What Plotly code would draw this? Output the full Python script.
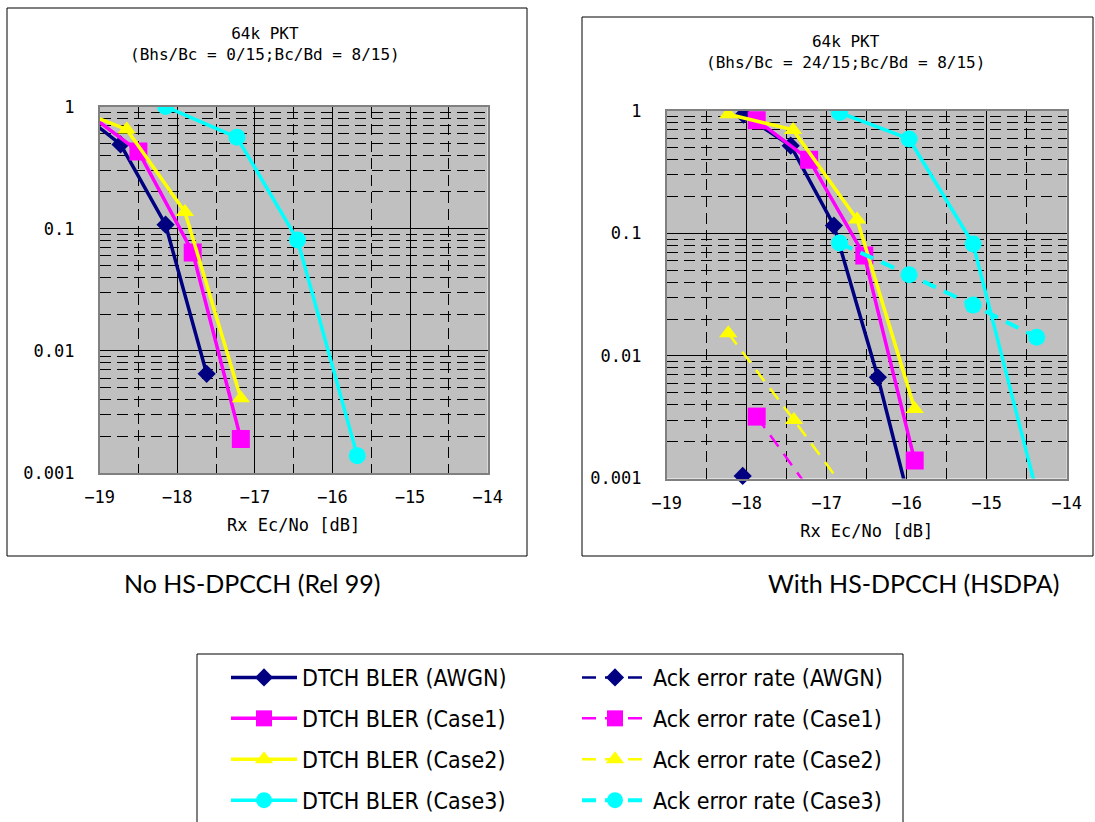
import plotly.graph_objects as go

# ---------------- data ----------------
series_names = ["AWGN", "Case1", "Case2", "Case3"]

# Left chart: No HS-DPCCH (Rel 99) - DTCH BLER
l_awgn_x = [-19.12, -18.73, -18.15, -17.62]
l_awgn_y = [0.77, 0.49, 0.108, 0.0065]
l_c1_x = [-19.12, -18.50, -17.80, -17.18]
l_c1_y = [0.85, 0.43, 0.064, 0.0019]
l_c2_x = [-19.12, -18.65, -17.90, -17.18]
l_c2_y = [0.85, 0.65, 0.137, 0.0041]
l_c3_x = [-18.15, -17.23, -16.45, -15.68]
l_c3_y = [1.0, 0.56, 0.081, 0.00139]

# Right chart: With HS-DPCCH (HSDPA) - DTCH BLER
r_awgn_x = [-18.04, -17.45, -16.91, -16.36, -15.90]
r_awgn_y = [0.93, 0.52, 0.116, 0.0067, 0.00044]
r_c1_x = [-17.875, -17.22, -16.53, -15.90]
r_c1_y = [0.84, 0.40, 0.066, 0.0014]
r_c2_x = [-18.23, -17.42, -16.62, -15.90]
r_c2_y = [0.94, 0.70, 0.13, 0.0037]
r_c3_x = [-16.84, -15.97, -15.17, -14.30]
r_c3_y = [0.97, 0.59, 0.082, 0.0005]

# Right chart: Ack error rate
a_awgn_x = [-18.05, -17.50]
a_awgn_y = [0.00105, 0.0003]
a_c1_x = [-17.875, -17.00]
a_c1_y = [0.0032, 0.00052]
a_c2_x = [-18.23, -17.41, -16.50]
a_c2_y = [0.0153, 0.0030, 0.00047]
a_c3_x = [-16.84, -15.97, -15.17, -14.375]
a_c3_y = [0.0835, 0.046, 0.026, 0.0142]

dtch_labels = ["DTCH BLER (AWGN)", "DTCH BLER (Case1)", "DTCH BLER (Case2)", "DTCH BLER (Case3)"]
ack_labels = ["Ack error rate (AWGN)", "Ack error rate (Case1)", "Ack error rate (Case2)", "Ack error rate (Case3)"]

x_ticks = [-19, -18, -17, -16, -15, -14]
y_ticks = [1, 0.1, 0.01, 0.001]
y_ticktext = ["1", "0.1", "0.01", "0.001"]

left_title = "64k PKT<br>(Bhs/Bc = 0/15;Bc/Bd = 8/15)"
right_title = "64k PKT<br>(Bhs/Bc = 24/15;Bc/Bd = 8/15)"
x_title = "Rx Ec/No [dB]"
left_caption = "No HS-DPCCH (Rel 99)"
right_caption = "With HS-DPCCH (HSDPA)"

# ---------------- styles ----------------
colors = ["#000080", "#FF00FF", "#FFFF00", "#00FFFF"]
symbols = ["diamond", "square", "triangle-up", "circle"]
msizes = [14, 18, 16, 17]

W, H = 1095, 822
MONO = "DejaVu Sans Mono"

fig = go.Figure()

left_sets = [(l_awgn_x, l_awgn_y), (l_c1_x, l_c1_y), (l_c2_x, l_c2_y), (l_c3_x, l_c3_y)]
right_sets = [(r_awgn_x, r_awgn_y), (r_c1_x, r_c1_y), (r_c2_x, r_c2_y), (r_c3_x, r_c3_y)]
ack_sets = [(a_awgn_x, a_awgn_y), (a_c1_x, a_c1_y), (a_c2_x, a_c2_y), (a_c3_x, a_c3_y)]

for i, (xs, ys) in enumerate(left_sets):
    fig.add_trace(go.Scatter(
        x=xs, y=ys, mode="lines+markers", xaxis="x", yaxis="y",
        line=dict(color=colors[i], width=3.5),
        marker=dict(symbol=symbols[i], size=msizes[i], color=colors[i]),
        showlegend=False, name=dtch_labels[i]))

for i, (xs, ys) in enumerate(right_sets):
    fig.add_trace(go.Scatter(
        x=xs, y=ys, mode="lines+markers", xaxis="x2", yaxis="y2",
        line=dict(color=colors[i], width=3.5),
        marker=dict(symbol=symbols[i], size=msizes[i], color=colors[i]),
        name=dtch_labels[i], legend="legend", legendgroup="d%d" % i))

ack_widths = [2.5, 2.5, 2.5, 4]
for i, (xs, ys) in enumerate(ack_sets):
    fig.add_trace(go.Scatter(
        x=xs, y=ys, mode="lines+markers", xaxis="x2", yaxis="y2",
        line=dict(color=colors[i], width=ack_widths[i], dash="14px,9px"),
        marker=dict(symbol=symbols[i], size=msizes[i], color=colors[i]),
        cliponaxis=False,
        name=ack_labels[i], legend="legend2", legendgroup="a%d" % i))

minor_y = [m * 10 ** e for e in (-3, -2, -1) for m in range(2, 10)]

def xaxis_cfg(domain, anchor):
    return dict(
        domain=domain, anchor=anchor, range=[-19, -14], automargin=False,
        tickvals=x_ticks, ticks="", ticklabelstandoff=8,
        tickfont=dict(family=MONO, size=17, color="black"),
        showgrid=True, gridcolor="black", gridwidth=1,
        minor=dict(dtick=0.5, showgrid=True, gridcolor="black", gridwidth=1, griddash="11px,6px"),
        showline=True, linecolor="#808080", linewidth=1.5, mirror=True,
        zeroline=False,
        title=dict(text=x_title, font=dict(family=MONO, size=17, color="black"), standoff=13))

def yaxis_cfg(domain, anchor):
    return dict(
        domain=domain, anchor=anchor, type="log", range=[-3, 0], automargin=False,
        tickvals=y_ticks, ticktext=y_ticktext, ticks="", ticklabelstandoff=20,
        tickfont=dict(family=MONO, size=17, color="black"),
        showgrid=True, gridcolor="black", gridwidth=1,
        minor=dict(tickvals=minor_y, showgrid=True, gridcolor="black", gridwidth=1, griddash="11px,6px"),
        showline=True, linecolor="#808080", linewidth=1.5, mirror=True,
        zeroline=False)

lx0, lx1 = 99.6 / W, 487.6 / W
ly0, ly1 = 1 - 473.1 / H, 1 - 106.6 / H
rx0, rx1 = 666.7 / W, 1066.7 / W
ry0, ry1 = 1 - 478.5 / H, 1 - 110.9 / H

legend_font = dict(family="Liberation Sans Narrow, DejaVu Sans Condensed, Arial Narrow, Liberation Sans",
                   size=23, color="black")

fig.update_layout(
    width=W, height=H,
    margin=dict(l=0, r=0, t=0, b=0, autoexpand=False),
    paper_bgcolor="white", plot_bgcolor="#C0C0C0",
    xaxis=xaxis_cfg([lx0, lx1], "y"),
    yaxis=yaxis_cfg([ly0, ly1], "x"),
    xaxis2=xaxis_cfg([rx0, rx1], "y2"),
    yaxis2=yaxis_cfg([ry0, ry1], "x2"),
    legend=dict(x=226 / W, y=1 - 656 / H, xanchor="left", yanchor="top",
                orientation="v", traceorder="grouped", tracegroupgap=8,
                itemwidth=66, font=legend_font, bgcolor="rgba(0,0,0,0)"),
    legend2=dict(x=577 / W, y=1 - 656 / H, xanchor="left", yanchor="top",
                 orientation="v", traceorder="grouped", tracegroupgap=8,
                 itemwidth=66, font=legend_font, bgcolor="rgba(0,0,0,0)"),
    shapes=[
        dict(type="rect", xref="paper", yref="paper",
             x0=7 / W, x1=527 / W, y0=1 - 556 / H, y1=1 - 8 / H,
             line=dict(color="black", width=1)),
        dict(type="rect", xref="paper", yref="paper",
             x0=582 / W, x1=1093 / W, y0=1 - 556 / H, y1=1 - 17 / H,
             line=dict(color="black", width=1)),
        dict(type="rect", xref="paper", yref="paper",
             x0=197 / W, x1=903 / W, y0=1 - 830 / H, y1=1 - 654 / H,
             line=dict(color="black", width=1)),
    ],
    annotations=[
        dict(text=left_title, xref="paper", yref="paper", x=265 / W, y=1 - 44 / H,
             xanchor="center", yanchor="middle", showarrow=False,
             font=dict(family=MONO, size=16, color="black")),
        dict(text=right_title, xref="paper", yref="paper", x=845 / W, y=1 - 52 / H,
             xanchor="center", yanchor="middle", showarrow=False,
             font=dict(family=MONO, size=16, color="black")),
        dict(text=left_caption, xref="paper", yref="paper", x=252 / W, y=1 - 583 / H,
             xanchor="center", yanchor="middle", showarrow=False,
             font=dict(family="Lato", size=25, color="black")),
        dict(text=right_caption, xref="paper", yref="paper", x=913 / W, y=1 - 583 / H,
             xanchor="center", yanchor="middle", showarrow=False,
             font=dict(family="Lato", size=25, color="black")),
    ],
)

fig.write_html("out.html", config={"displayModeBar": False},
               post_script="document.body.style.margin='0px';document.body.style.overflow='hidden';")
